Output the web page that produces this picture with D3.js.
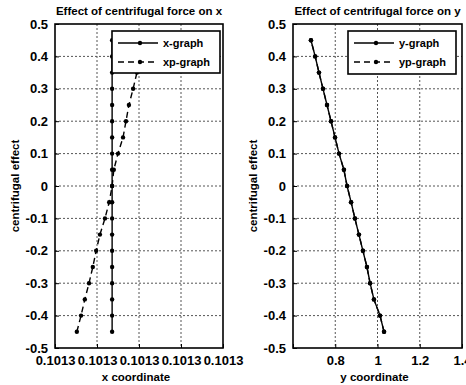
<!DOCTYPE html>
<html>
<head>
<meta charset="utf-8">
<script src="https://cdn.jsdelivr.net/npm/d3@7"></script>
<style>
  html, body { margin: 0; padding: 0; background: #fff; }
  svg { display: block; font-family: "Liberation Sans", Arial, sans-serif; font-weight: bold; }
</style>
</head>
<body>
<svg id="chart" width="466" height="385"></svg>
<script>
// ---- data ----
const yValues = [-0.45, -0.4, -0.35, -0.3, -0.25, -0.2, -0.15, -0.1, -0.05, 0, 0.05, 0.1, 0.15, 0.2, 0.25, 0.3, 0.35, 0.4, 0.45];
const xGraph = [0.1013136, 0.1013136, 0.1013136, 0.1013136, 0.1013136, 0.1013136, 0.1013136, 0.1013136, 0.1013136, 0.1013136,
                0.1013136, 0.1013136, 0.1013136, 0.1013136, 0.1013136, 0.1013136, 0.1013136, 0.1013136, 0.1013136];
const xpGraph = [0.1013052, 0.1013062, 0.1013071, 0.1013081, 0.1013090, 0.1013098, 0.1013107, 0.1013119, 0.1013129, 0.1013136,
                 0.1013140, 0.1013150, 0.1013162, 0.1013169, 0.1013176, 0.1013186, 0.1013195, 0.1013202, 0.1013212];
const yGraph = [1.031, 1.012, 0.983, 0.965, 0.950, 0.931, 0.912, 0.893, 0.875, 0.856,
                0.841, 0.818, 0.799, 0.780, 0.761, 0.742, 0.723, 0.705, 0.685];
const ypGraph = [1.031, 1.012, 0.983, 0.965, 0.950, 0.931, 0.912, 0.893, 0.875, 0.856,
                 0.841, 0.818, 0.799, 0.780, 0.761, 0.742, 0.723, 0.705, 0.685];
const yTicks = [-0.5, -0.4, -0.3, -0.2, -0.1, 0, 0.1, 0.2, 0.3, 0.4, 0.5];
const yTickLabels = ["-0.5", "-0.4", "-0.3", "-0.2", "-0.1", "0", "0.1", "0.2", "0.3", "0.4", "0.5"];
const xTicksLeft = [0.10130, 0.10131, 0.10132, 0.10133, 0.10134];
const xTickLabelsLeft = ["0.1013", "0.1013", "0.1013", "0.1013", "0.1013"];
const xTicksRight = [0.6, 0.8, 1.0, 1.2, 1.4];
const xTickLabelsRight = ["", "0.8", "1", "1.2", "1.4"];

const panels = [
  { left: 55, right: 223, xDomain: [0.10130, 0.10134], xTicks: xTicksLeft, xLabels: xTickLabelsLeft,
    title: "Effect of centrifugal force on x", xTitle: "x coordinate",
    s1: xGraph, s2: xpGraph, n1: "x-graph", n2: "xp-graph",
    legend: { x: 112, y: 31, w: 108, h: 42 }, yLabelX: 15 },
  { left: 293, right: 462, xDomain: [0.6, 1.4], xTicks: xTicksRight, xLabels: xTickLabelsRight,
    title: "Effect of centrifugal force on y", xTitle: "y coordinate",
    s1: yGraph, s2: ypGraph, n1: "y-graph", n2: "yp-graph",
    legend: { x: 348, y: 31, w: 108, h: 43 }, yLabelX: 253 }
];

const plotTop = 24, plotBottom = 348;
const svg = d3.select("#chart");

panels.forEach(p => {
  const x = d3.scaleLinear().domain(p.xDomain).range([p.left, p.right]);
  const y = d3.scaleLinear().domain([-0.5, 0.5]).range([plotBottom, plotTop]);
  const g = svg.append("g");

  // grid
  g.append("g").selectAll("line").data(yTicks.slice(1, -1)).join("line")
    .attr("x1", p.left).attr("x2", p.right)
    .attr("y1", d => y(d)).attr("y2", d => y(d))
    .attr("stroke", "#555").attr("stroke-width", 1).attr("stroke-dasharray", "2,2");
  g.append("g").selectAll("line").data(p.xTicks.slice(1, -1)).join("line")
    .attr("y1", plotTop).attr("y2", plotBottom)
    .attr("x1", d => x(d)).attr("x2", d => x(d))
    .attr("stroke", "#555").attr("stroke-width", 1).attr("stroke-dasharray", "2,2");

  // axes
  const yAxis = d3.axisLeft(y).tickValues(yTicks).tickFormat((d, i) => yTickLabels[i]).tickSizeInner(-4).tickSizeOuter(0).tickPadding(7);
  const ya = g.append("g").attr("transform", `translate(${p.left},0)`).call(yAxis);
  const xAxis = d3.axisBottom(x).tickValues(p.xTicks).tickFormat((d, i) => p.xLabels[i]).tickSizeInner(-4).tickSizeOuter(0).tickPadding(8);
  const xa = g.append("g").attr("transform", `translate(0,${plotBottom})`).call(xAxis);
  [ya, xa].forEach(a => {
    a.select(".domain").remove();
    a.selectAll("line").attr("stroke", "#000");
    a.selectAll("text").attr("font-size", 13).attr("font-weight", "bold").attr("fill", "#000")
      .attr("font-family", "Liberation Sans, Arial, sans-serif");
  });

  // box
  g.append("rect").attr("x", p.left).attr("y", plotTop).attr("width", p.right - p.left).attr("height", plotBottom - plotTop)
    .attr("fill", "none").attr("stroke", "#000").attr("stroke-width", 1.6);

  // series
  const line = d3.line().x(d => x(d[0])).y(d => y(d[1]));
  const d1 = p.s1.map((v, i) => [v, yValues[i]]);
  const d2 = p.s2.map((v, i) => [v, yValues[i]]);
  g.append("path").datum(d2).attr("d", line).attr("fill", "none").attr("stroke", "#000")
    .attr("stroke-width", 1.4).attr("stroke-dasharray", "6,4");
  g.append("path").datum(d1).attr("d", line).attr("fill", "none").attr("stroke", "#000").attr("stroke-width", 1.4);
  [d1, d2].forEach(dd => {
    g.append("g").selectAll("circle").data(dd).join("circle")
      .attr("cx", d => x(d[0])).attr("cy", d => y(d[1])).attr("r", 2.2).attr("fill", "#000");
  });

  // title & labels
  g.append("text").attr("x", (p.left + p.right) / 2).attr("y", 15).attr("text-anchor", "middle")
    .attr("font-size", 11.5).text(p.title);
  g.append("text").attr("x", (p.left + p.right) / 2 - 3).attr("y", 381).attr("text-anchor", "middle")
    .attr("font-size", 11.5).text(p.xTitle);
  g.append("text").attr("transform", `translate(${p.yLabelX + 4},${(plotTop + plotBottom) / 2}) rotate(-90)`)
    .attr("text-anchor", "middle").attr("font-size", 11.5).text("centrifugal effect");

  // legend
  const L = p.legend;
  const lg = g.append("g");
  lg.append("rect").attr("x", L.x).attr("y", L.y).attr("width", L.w).attr("height", L.h)
    .attr("fill", "#fff").attr("stroke", "#000").attr("stroke-width", 1.6);
  const rows = [{ name: p.n1, dash: null, yy: L.y + 12 }, { name: p.n2, dash: "6,4", yy: L.y + 31 }];
  rows.forEach(r => {
    lg.append("line").attr("x1", L.x + 6).attr("x2", L.x + 46).attr("y1", r.yy).attr("y2", r.yy)
      .attr("stroke", "#000").attr("stroke-width", 1.4).attr("stroke-dasharray", r.dash);
    lg.append("circle").attr("cx", L.x + 28).attr("cy", r.yy).attr("r", 2.2).attr("fill", "#000");
    lg.append("text").attr("x", L.x + 51).attr("y", r.yy + 4).attr("font-size", 11).text(r.name);
  });
});
</script>
</body>
</html>
